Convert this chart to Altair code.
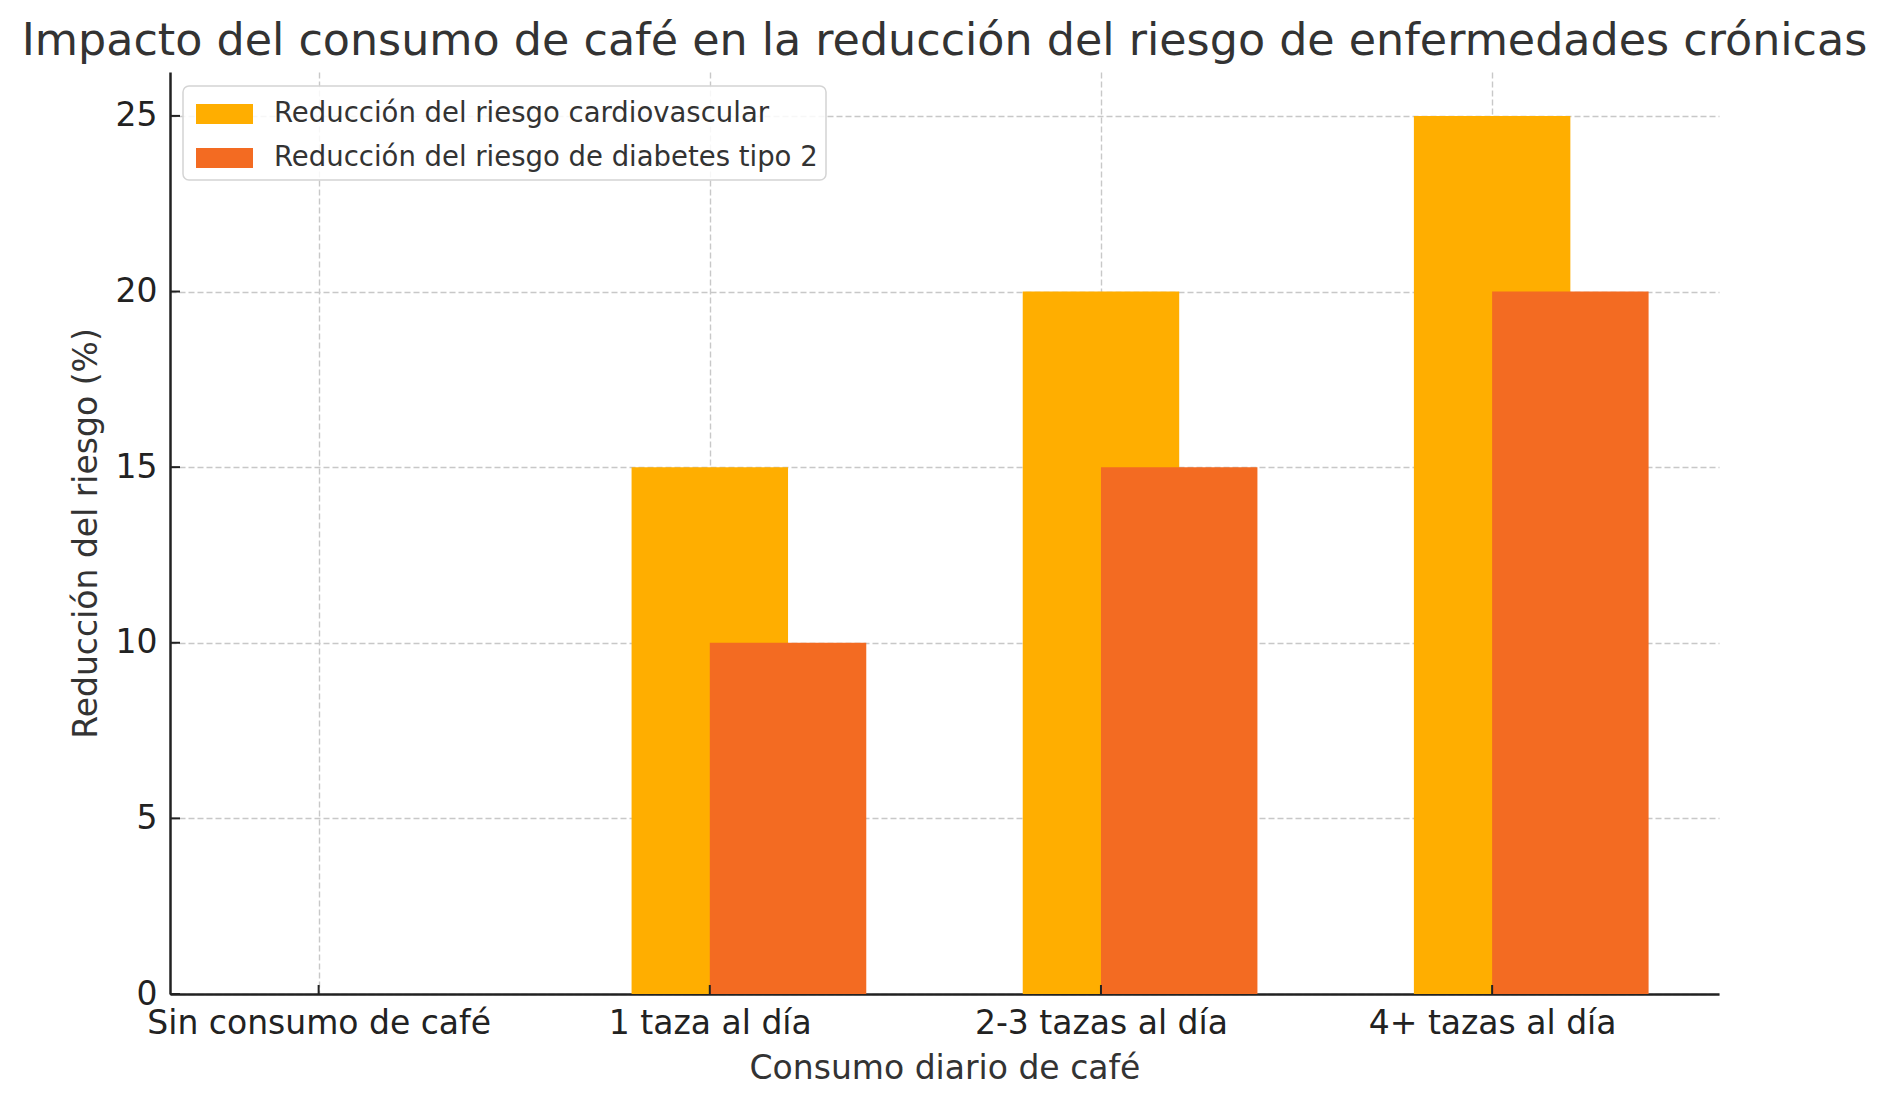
import json
import altair as alt
import pandas as pd

# ---- data ----
categories = ["Sin consumo de café", "1 taza al día", "2-3 tazas al día", "4+ tazas al día"]
series_names = ["Reducción del riesgo cardiovascular", "Reducción del riesgo de diabetes tipo 2"]
cardio = [0, 15, 20, 25]
diabetes = [0, 10, 15, 20]
y_ticks = [0, 5, 10, 15, 20, 25]
series_colors = ["#FFAE00", "#F36B22"]

# ---- layout constants ----
W, H = 1549, 922
BAR_W = 0.4
series_shift = [0.0, 0.2]   # matplotlib-style overlapping bars
FONT = "DejaVu Sans"

rows = []
for s_idx, (name, vals) in enumerate(zip(series_names, [cardio, diabetes])):
    for i, v in enumerate(vals):
        rows.append({"i": i, "serie": name, "valor": v, "shift": series_shift[s_idx]})
df = pd.DataFrame(rows)

xscale = alt.Scale(domain=[-0.38, 3.58], nice=False, zero=False)
yscale = alt.Scale(domain=[0, 26.25], nice=False)

label_expr = json.dumps(categories) + "[round(datum.value)]"

bars = alt.Chart(df).transform_calculate(
    x0=f"datum.i + datum.shift - {BAR_W / 2}",
    x1=f"datum.i + datum.shift + {BAR_W / 2}",
    base="0",
).mark_bar(strokeWidth=0).encode(
    x=alt.X("x0:Q", scale=xscale,
            axis=alt.Axis(values=list(range(len(categories))), labelExpr=label_expr,
                          title="Consumo diario de café", grid=True, ticks=False, tickSize=0,
                          labelPadding=13, titlePadding=12, labelLimit=0)),
    x2="x1:Q",
    y=alt.Y("valor:Q", scale=yscale,
            axis=alt.Axis(values=y_ticks, title="Reducción del riesgo (%)", grid=True,
                          ticks=False, tickSize=0, labelPadding=13, titlePadding=12)),
    y2="base:Q",
    color=alt.Color("serie:N", sort=series_names,
                    scale=alt.Scale(domain=series_names, range=series_colors),
                    legend=alt.Legend(title=None)),
    order=alt.Order("shift:Q"),
)

ytick_df = pd.DataFrame({"v": y_ticks})
yticks = alt.Chart(ytick_df).mark_rule(color="#222222", strokeWidth=2).encode(
    y=alt.Y("v:Q", scale=yscale),
    x=alt.value(0), x2=alt.value(10),
)
xtick_df = pd.DataFrame({"i": list(range(len(categories)))})
xticks = alt.Chart(xtick_df).mark_rule(color="#222222", strokeWidth=2).encode(
    x=alt.X("i:Q", scale=xscale),
    y=alt.value(H), y2=alt.value(H - 9),
)

chart = alt.layer(bars, yticks, xticks).properties(
    width=W, height=H,
    autosize=alt.AutoSizeParams(type="none"),
    padding={"left": 170, "top": 72, "right": 170, "bottom": 109},
    title=alt.Title("Impacto del consumo de café en la reducción del riesgo de enfermedades crónicas",
                    fontSize=44.4, font=FONT, fontWeight="normal", color="#333333",
                    anchor="middle", frame="group", baseline="alphabetic", offset=15, dy=42),
).configure_view(stroke=None).configure_axis(
    labelFont=FONT, titleFont=FONT, labelFontSize=33, titleFontSize=33,
    labelColor="#222222", titleColor="#333333", titleFontWeight="normal",
    domainColor="#222222", domainWidth=2.5,
    gridColor="#c8c8c8", gridDash=[6, 3], gridWidth=1.4,
    zindex=1, labelFlush=False, labelOverlap=False,
).configure_legend(
    orient="none", legendX=13, legendY=14,
    symbolType="M-0.75,-0.5H2.1V0.5H-0.75Z", symbolSize=1600,
    symbolStrokeWidth=0, symbolOpacity=1,
    labelFont=FONT, labelFontSize=27.5, labelColor="#333333", labelOffset=43, labelLimit=800,
    padding=8, rowPadding=10, cornerRadius=6,
    strokeColor="#d4d4d4", fillColor="rgba(255,255,255,0.85)", strokeWidth=1.5,
)

chart.save("out.html", embed_options={"renderer": "svg", "actions": False})
